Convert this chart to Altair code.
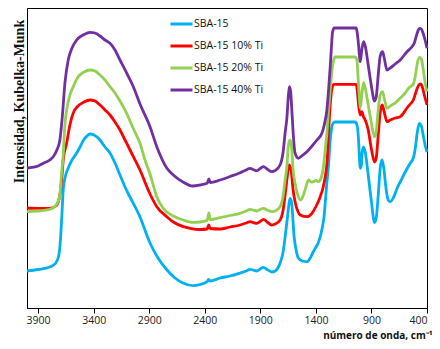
import altair as alt
import pandas as pd

series = ["SBA-15", "SBA-15 10% Ti", "SBA-15 20% Ti", "SBA-15 40% Ti"]
colors = ["#00B0F0", "#FF0000", "#92D050", "#7030A0"]
x_ticks = [3900, 3400, 2900, 2400, 1900, 1400, 900, 400]

wn_sba = [4000, 3900, 3795, 3740, 3713, 3699, 3686, 3674, 3654, 3629, 3595, 3553, 3523, 3496, 3469, 3433, 3397, 3343, 3298, 3253, 3208, 3163, 3118, 3073, 2983, 2893, 2821, 2740, 2668, 2596, 2505, 2442, 2379, 2366, 2352, 2262, 2172, 2082, 2028, 1992, 1965, 1932, 1902, 1872, 1839, 1796, 1767, 1722, 1695, 1677, 1659, 1641, 1632, 1618, 1596, 1578, 1557, 1523, 1481, 1451, 1424, 1406, 1379, 1361, 1343, 1325, 1316, 1303, 1286, 1271, 1258, 1244, 1226, 1046, 1028, 1016, 1007, 1001, 990, 983, 971, 956, 929, 902, 872, 857, 839, 821, 805, 789, 767, 749, 731, 704, 668, 641, 596, 551, 523, 505, 487, 469, 451, 433, 415, 400]
y_sba = [37, 38.5, 41, 45, 53, 68, 93, 118, 132, 140, 148, 155, 161, 167, 171, 174, 173, 168, 161, 155, 145, 133, 121, 111, 91, 65, 50, 38, 30, 25, 22.3, 23.5, 26.3, 28.5, 27, 30, 32, 35, 37, 38.7, 38, 37, 39, 40.7, 38.5, 36, 37, 45, 56, 71, 88, 105, 109.7, 105, 71.3, 58, 49.7, 47, 46.3, 50, 56, 59.7, 65, 71.3, 80, 93, 105, 123, 143, 168, 180, 185, 186, 186, 182, 168, 148, 139.7, 143, 156, 161, 156, 133, 108, 85.5, 90, 113, 140, 148, 140, 118, 108, 106.3, 110, 120, 126, 136, 144.7, 150, 160, 176, 184.7, 182, 172, 162, 156]

wn_10 = [4000, 3900, 3795, 3740, 3722, 3704, 3688, 3674, 3643, 3614, 3584, 3541, 3487, 3433, 3388, 3343, 3298, 3253, 3208, 3163, 3118, 3073, 2983, 2893, 2832, 2742, 2683, 2593, 2532, 2442, 2379, 2364, 2352, 2262, 2172, 2082, 2028, 1992, 1965, 1932, 1902, 1872, 1839, 1796, 1767, 1722, 1695, 1677, 1659, 1641, 1623, 1605, 1587, 1560, 1541, 1481, 1436, 1397, 1361, 1334, 1316, 1298, 1286, 1271, 1258, 1241, 1037, 1028, 1016, 1001, 986, 971, 956, 929, 902, 872, 857, 839, 821, 803, 785, 760, 731, 686, 641, 580, 551, 523, 505, 487, 469, 456, 442, 424, 400]
y_10 = [100, 99.7, 99.7, 102, 105, 113, 128, 148, 165, 183, 195, 202, 206, 208, 207, 203, 198, 193, 186, 178, 168, 158, 138, 114, 101.3, 91.3, 86, 81.3, 79.7, 78.5, 79, 83, 79.5, 79, 81, 83, 85, 86.3, 85.5, 84.7, 86.5, 88.7, 86, 83, 84, 88, 98, 113, 130, 143, 138, 118, 106, 96, 93, 91.3, 94.7, 102, 111.3, 121, 131.3, 148, 175, 203, 218, 223.7, 223.7, 218, 203, 193, 196.3, 191, 188, 178, 160, 146, 150, 173, 196, 203, 196, 186.3, 188, 190, 191.3, 200, 204, 208, 214, 220, 223.5, 224, 221, 213, 203]

wn_20 = [4000, 3900, 3795, 3749, 3722, 3704, 3690, 3674, 3659, 3643, 3614, 3584, 3541, 3487, 3433, 3388, 3343, 3298, 3253, 3208, 3163, 3103, 3046, 2983, 2938, 2893, 2832, 2776, 2683, 2596, 2505, 2442, 2379, 2363, 2352, 2262, 2172, 2082, 2028, 1992, 1965, 1932, 1902, 1872, 1839, 1796, 1767, 1722, 1695, 1677, 1661, 1647, 1632, 1618, 1605, 1587, 1568, 1541, 1523, 1512, 1487, 1467, 1442, 1422, 1397, 1377, 1361, 1332, 1316, 1301, 1286, 1271, 1253, 1240, 1226, 1046, 1031, 1019, 1007, 1001, 987, 971, 956, 929, 902, 872, 857, 839, 821, 800, 785, 760, 731, 686, 641, 596, 566, 541, 523, 505, 487, 467, 451, 433, 415, 400]
y_20 = [96.3, 97, 98.7, 101.5, 106, 113, 133, 153, 183, 198, 213, 221.3, 231, 236, 238, 237, 233, 228, 221.3, 215, 207, 194.7, 180, 164.7, 148, 134, 111.3, 100, 92, 88, 85.7, 86, 87.5, 95, 88.5, 90.3, 92.5, 94.7, 97, 98.7, 98, 97, 98.5, 99.7, 98, 96.3, 97, 101.3, 112, 128, 141.3, 163, 168, 160, 138, 124.7, 115, 108, 110, 113, 122, 128, 126, 126.3, 127.5, 126.3, 128, 141.3, 158, 174.7, 198, 218, 240, 248, 251, 251, 248, 228, 208, 200, 213, 225.3, 220, 203, 186, 171.3, 176, 198, 213, 216.3, 210, 199.7, 202, 205, 210, 215, 219.7, 222, 224, 232, 245, 250.7, 249, 238, 224, 216.3]

wn_40 = [4000, 3900, 3854, 3795, 3764, 3731, 3704, 3681, 3659, 3629, 3595, 3553, 3496, 3433, 3388, 3343, 3298, 3253, 3208, 3163, 3103, 3043, 2983, 2893, 2832, 2742, 2683, 2596, 2508, 2442, 2379, 2363, 2352, 2262, 2172, 2082, 2028, 1992, 1965, 1932, 1902, 1872, 1839, 1796, 1767, 1722, 1695, 1677, 1661, 1647, 1638, 1627, 1614, 1600, 1587, 1557, 1523, 1481, 1442, 1391, 1346, 1325, 1301, 1286, 1271, 1259, 1250, 1235, 1037, 1028, 1016, 1007, 1001, 987, 971, 956, 929, 902, 872, 857, 839, 821, 800, 785, 760, 731, 686, 641, 580, 535, 514, 496, 478, 467, 451, 433, 415, 400]
y_40 = [140, 142, 144.7, 148, 151.3, 158, 168, 193, 224.7, 248, 260, 268, 273, 275.7, 275, 272, 268, 264.7, 258, 248, 235, 221.3, 204, 181.3, 161.3, 140, 133, 126, 122, 123, 124.7, 129, 125.5, 128, 131.5, 135.3, 138, 139.7, 138.5, 137.3, 139.5, 141.3, 139, 136.3, 137.5, 143, 156, 175, 190, 213, 221.3, 216, 193, 168, 154.7, 149.7, 152.5, 156.3, 161, 168, 174.7, 183, 198, 218, 241.3, 263, 276, 280, 280, 275, 263, 251, 246.3, 258, 266.3, 262, 243, 223, 207, 211, 233, 252, 256.3, 250, 238, 240, 244, 248, 256.3, 261.3, 265, 272, 278, 279.7, 279, 274, 267, 259.7]

rows = []
for name, wns, vals in zip(series, [wn_sba, wn_10, wn_20, wn_40], [y_sba, y_10, y_20, y_40]):
    for w, v in zip(wns, vals):
        rows.append({"wn": w, "val": v, "serie": name})
df = pd.DataFrame(rows)

chart = (
    alt.Chart(df)
    .mark_line(strokeWidth=2.8, interpolate="monotone")
    .encode(
        x=alt.X(
            "wn:Q",
            scale=alt.Scale(domain=[400, 4000], reverse=True, nice=False, zero=False),
            axis=alt.Axis(
                values=x_ticks, format="d", grid=False, title="número de onda, cm⁻¹",
                labelFont="Open Sans", labelFontSize=10.5, labelColor="#222",
                labelPadding=2.5, tickSize=5, tickColor="black", domainColor="black",
                titleFont="Open Sans", titleFontSize=10, titleFontWeight="bold",
                titleColor="#111", titleAnchor="end", titleAlign="right",
                titleX=405, titleY=30, titleBaseline="alphabetic",
            ),
        ),
        y=alt.Y(
            "val:Q",
            scale=alt.Scale(domain=[0, 300], nice=False, zero=False),
            axis=alt.Axis(
                labels=False, ticks=False, grid=False, domainColor="black",
                title="Intensidad, Kubelka-Munk", titleFont="Liberation Serif",
                titleFontSize=14, titleFontWeight="bold", titleColor="#111",
                titleAngle=-90, titleX=-4, titleY=93, titleAlign="center",
                titleBaseline="alphabetic",
            ),
        ),
        color=alt.Color(
            "serie:N",
            scale=alt.Scale(domain=series, range=colors),
            legend=alt.Legend(
                title=None, orient="none", legendX=142, legendY=3.5,
                symbolType="stroke", symbolSize=484, symbolStrokeWidth=3,
                labelFont="Open Sans", labelFontSize=10.5, labelColor="#111",
                rowPadding=3, labelOffset=0, padding=0,
            ),
        ),
        order=alt.Order("wn:Q", sort="descending"),
    )
    .properties(
        width=400, height=300,
        autosize=alt.AutoSizeParams(type="none"),
        padding={"left": 19, "top": 0, "right": 5, "bottom": 33},
    )
    .configure_view(stroke="black", strokeWidth=1)
)

chart.save("out.html", embed_options={"renderer": "svg", "actions": False})
